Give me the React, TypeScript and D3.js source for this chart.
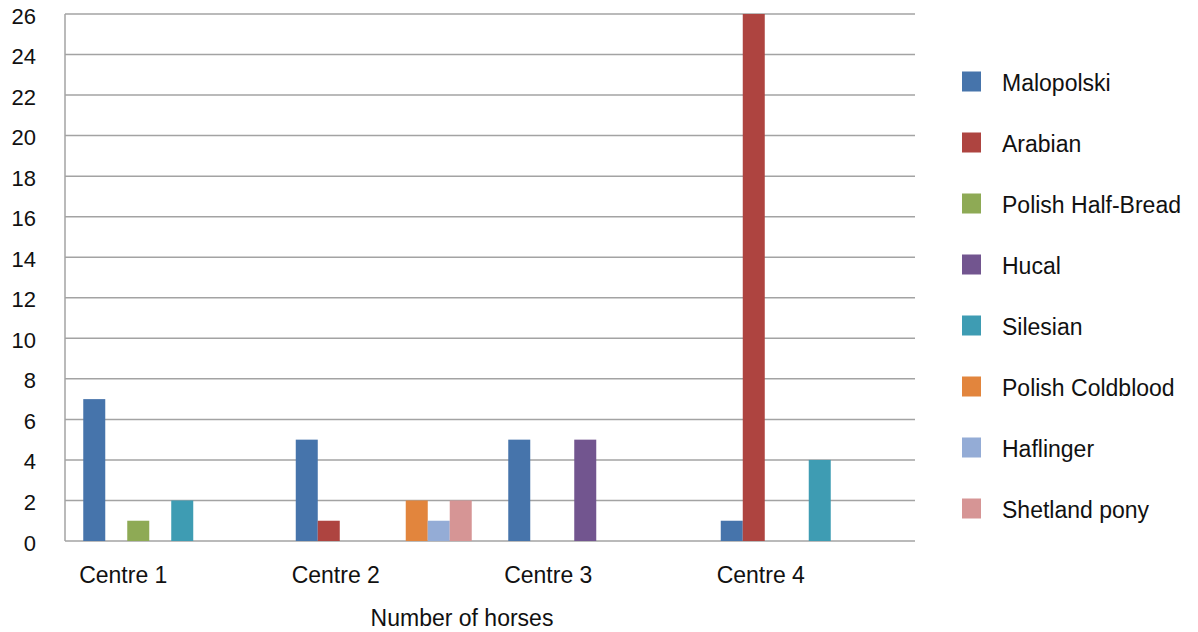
import React, { useEffect, useRef } from 'react';
import * as d3 from 'd3';

const CENTRES = ['Centre 1', 'Centre 2', 'Centre 3', 'Centre 4'];
const BREEDS = [
  'Malopolski',
  'Arabian',
  'Polish Half-Bread',
  'Hucal',
  'Silesian',
  'Polish Coldblood',
  'Haflinger',
  'Shetland pony',
];
const COLORS = ['#4674AB', '#AE4440', '#8EAA55', '#72558F', '#3E9CB3', '#E2853D', '#94ACD6', '#D69595'];

// values per breed, one per centre
const MALOPOLSKI = [7, 5, 5, 1];
const ARABIAN = [0, 1, 0, 26];
const HALF_BREAD = [1, 0, 0, 0];
const HUCAL = [0, 0, 5, 0];
const SILESIAN = [2, 0, 0, 4];
const COLDBLOOD = [0, 2, 0, 0];
const HAFLINGER = [0, 1, 0, 0];
const SHETLAND = [0, 2, 0, 0];

const Y_TICKS = [0, 2, 4, 6, 8, 10, 12, 14, 16, 18, 20, 22, 24, 26];

const SERIES = [MALOPOLSKI, ARABIAN, HALF_BREAD, HUCAL, SILESIAN, COLDBLOOD, HAFLINGER, SHETLAND];

const App = () => {
  const svgRef = useRef(null);

  useEffect(() => {
    document.body.style.margin = '0';

    const WIDTH = 1198;
    const HEIGHT = 632;
    const left = 65;
    const right = 915;
    const top = 14;
    const bottom = 541;
    const font = 'Liberation Sans, Arial, sans-serif';

    const svg = d3.select(svgRef.current).attr('width', WIDTH).attr('height', HEIGHT);
    svg.selectAll('*').remove();

    const x0 = d3.scaleBand().domain(CENTRES).range([left, right]);
    // bars sit side by side, with some room at each end of a group
    const x1 = d3
      .scaleBand()
      .domain(BREEDS)
      .range([0, x0.bandwidth()])
      .paddingInner(0)
      .paddingOuter(0.83);
    const y = d3.scaleLinear().domain([0, 26]).range([bottom, top]);

    // gridlines
    svg
      .append('g')
      .selectAll('line')
      .data(Y_TICKS)
      .enter()
      .append('line')
      .attr('x1', left)
      .attr('x2', right)
      .attr('y1', (d) => y(d))
      .attr('y2', (d) => y(d))
      .attr('stroke', '#a3a3a3')
      .attr('stroke-width', 1.5);

    svg
      .append('line')
      .attr('x1', left)
      .attr('x2', left)
      .attr('y1', top)
      .attr('y2', bottom)
      .attr('stroke', '#a3a3a3')
      .attr('stroke-width', 1.5);

    // y labels
    svg
      .append('g')
      .selectAll('text')
      .data(Y_TICKS)
      .enter()
      .append('text')
      .attr('x', 36)
      .attr('y', (d) => y(d) + 2)
      .attr('text-anchor', 'end')
      .attr('dominant-baseline', 'central')
      .attr('font-family', font)
      .attr('font-size', 22)
      .attr('fill', '#111')
      .text((d) => d);

    // bars
    const rows = [];
    CENTRES.forEach((c, ci) => {
      BREEDS.forEach((b, bi) => {
        rows.push({ centre: c, breed: b, value: SERIES[bi][ci], color: COLORS[bi] });
      });
    });

    svg
      .append('g')
      .selectAll('rect')
      .data(rows.filter((r) => r.value > 0))
      .enter()
      .append('rect')
      .attr('x', (d) => x0(d.centre) + x1(d.breed))
      .attr('width', x1.bandwidth())
      .attr('y', (d) => y(d.value))
      .attr('height', (d) => y(0) - y(d.value))
      .attr('fill', (d) => d.color);

    // category labels
    svg
      .append('g')
      .selectAll('text')
      .data(CENTRES)
      .enter()
      .append('text')
      .attr('x', (d) => x0(d) + x0.bandwidth() / 2 - 48)
      .attr('y', 583)
      .attr('text-anchor', 'middle')
      .attr('font-family', font)
      .attr('font-size', 23)
      .attr('fill', '#111')
      .text((d) => d);

    svg
      .append('text')
      .attr('x', 462)
      .attr('y', 626)
      .attr('text-anchor', 'middle')
      .attr('font-family', font)
      .attr('font-size', 23)
      .attr('fill', '#111')
      .text('Number of horses');

    // legend
    const legend = svg
      .append('g')
      .selectAll('g')
      .data(BREEDS)
      .enter()
      .append('g')
      .attr('transform', (d, i) => `translate(962, ${81.5 + i * 61})`);

    legend
      .append('rect')
      .attr('x', 0)
      .attr('y', -10)
      .attr('width', 19)
      .attr('height', 20)
      .attr('fill', (d, i) => COLORS[i]);

    legend
      .append('text')
      .attr('x', 40)
      .attr('y', 1)
      .attr('dominant-baseline', 'central')
      .attr('font-family', font)
      .attr('font-size', 23)
      .attr('fill', '#111')
      .text((d) => d);
  }, []);

  return <svg ref={svgRef} style={{ display: 'block' }}></svg>;
};

export default App;
